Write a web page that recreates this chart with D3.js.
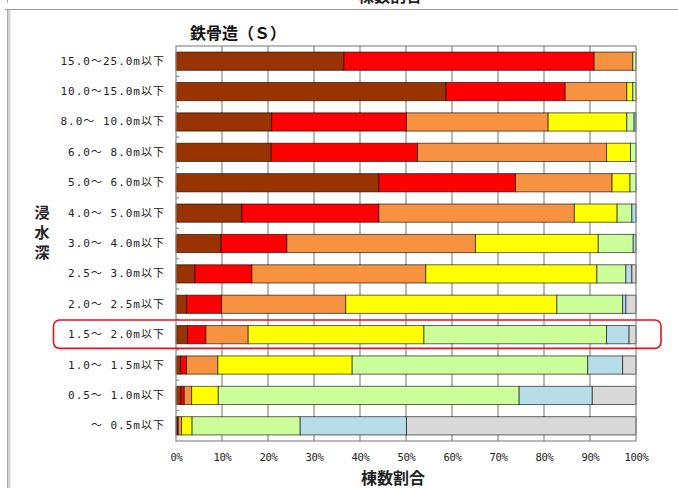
<!DOCTYPE html>
<html>
<head>
<meta charset="utf-8">
<script src="https://cdn.jsdelivr.net/npm/d3@7"></script>
<style>
  html, body { margin: 0; padding: 0; background: #fff; }
  svg { display: block; }
</style>
</head>
<body>
<svg id="chart" width="678" height="488"></svg>
<script>
// Flood depth classes (top to bottom)
const depths = [
  "15.0～25.0m以下", "10.0～15.0m以下", "8.0～ 10.0m以下", "6.0～ 8.0m以下",
  "5.0～ 6.0m以下", "4.0～ 5.0m以下", "3.0～ 4.0m以下", "2.5～ 3.0m以下",
  "2.0～ 2.5m以下", "1.5～ 2.0m以下", "1.0～ 1.5m以下", "0.5～ 1.0m以下", "～ 0.5m以下"
];

// Share of buildings (%) per damage class, one value per depth class
const sBrown  = [36.5, 58.7, 20.8, 20.7, 44.1, 14.3,  9.8,  4.1,  2.3,  2.5,  1.0,  1.1,  0.3];
const sRed    = [54.4, 25.9, 29.3, 31.8, 29.7, 29.8, 14.3, 12.4,  7.6,  4.0,  1.3,  0.7,  0.2];
const sOrange = [ 8.4, 13.4, 30.8, 41.1, 21.0, 42.5, 41.0, 37.8, 27.0,  9.2,  6.8,  1.6,  0.7];
const sYellow = [ 0.0,  1.3, 17.1,  5.2,  3.9,  9.3, 26.7, 37.2, 45.9, 38.2, 29.2,  5.8,  2.3];
const sGreen  = [ 0.7,  0.7,  1.6,  1.2,  1.3,  3.2,  7.6,  6.3, 14.3, 39.7, 51.2, 65.4, 23.5];
const sBlue   = [ 0.0,  0.0,  0.4,  0.0,  0.0,  0.9,  0.6,  1.3,  0.7,  4.9,  7.6, 15.9, 23.1];
const sGray   = [ 0.0,  0.0,  0.0,  0.0,  0.0,  0.0,  0.0,  0.9,  2.2,  1.5,  2.9,  9.5, 49.9];

const seriesValues = [sBrown, sRed, sOrange, sYellow, sGreen, sBlue, sGray];
const seriesColors = ["#993300", "#FF0000", "#F79240", "#FFFF00", "#CCFF99", "#B7DEE8", "#D9D9D9"];

const xTicks = [0, 10, 20, 30, 40, 50, 60, 70, 80, 90, 100];
const highlighted = "1.5～ 2.0m以下";

const svg = d3.select("#chart");

// page frame
svg.append("line").attr("x1", 5).attr("x2", 678).attr("y1", 9.5).attr("y2", 9.5)
  .attr("stroke", "#9a9a9a").attr("stroke-width", 1.2);
svg.append("rect").attr("x", 7).attr("y", 10).attr("width", 3.5).attr("height", 478)
  .attr("fill", "#d4d4d4");
svg.append("line").attr("x1", 7.5).attr("x2", 7.5).attr("y1", 10).attr("y2", 488)
  .attr("stroke", "#a8a8a8").attr("stroke-width", 1);
svg.append("line").attr("x1", 7.5).attr("x2", 7.5).attr("y1", 0).attr("y2", 3)
  .attr("stroke", "#a8a8a8").attr("stroke-width", 1);

// heading of the page section above
svg.append("text").attr("x", 390).attr("y", 2)
  .attr("text-anchor", "middle")
  .style("font-family", "'Noto Sans CJK JP'").style("font-size", "16px").style("font-weight", "bold")
  .attr("fill", "#222").text("棟数割合");

const plot = { left: 176, right: 636, top: 46, bottom: 441 };

const x = d3.scaleLinear().domain([0, 100]).range([plot.left, plot.right]);
const y = d3.scaleBand().domain(depths).range([plot.top, plot.bottom])
  .paddingInner(0.4).paddingOuter(0.2);

// plot background and vertical grid
svg.append("rect").attr("x", plot.left).attr("y", plot.top)
  .attr("width", plot.right - plot.left).attr("height", plot.bottom - plot.top)
  .attr("fill", "#fff");

svg.append("g")
  .selectAll("line").data(xTicks.slice(1, -1)).join("line")
  .attr("x1", d => x(d)).attr("x2", d => x(d))
  .attr("y1", plot.top).attr("y2", plot.bottom)
  .attr("stroke", "#8a8a8a").attr("stroke-width", 1.2);

// stacked bars
const stacked = depths.map((d, i) => {
  let acc = 0;
  return seriesValues.map((s, k) => {
    const seg = { depth: d, k, x0: acc, x1: acc + s[i] };
    acc += s[i];
    return seg;
  });
}).flat().filter(s => s.x1 - s.x0 > 0);

svg.append("g")
  .selectAll("rect").data(stacked).join("rect")
  .attr("x", d => x(d.x0))
  .attr("y", d => y(d.depth))
  .attr("width", d => x(d.x1) - x(d.x0))
  .attr("height", y.bandwidth())
  .attr("fill", d => seriesColors[d.k])
  .attr("stroke", "rgba(0,0,0,0.6)")
  .attr("stroke-width", 1);

// plot frame
svg.append("rect").attr("x", plot.left).attr("y", plot.top)
  .attr("width", plot.right - plot.left).attr("height", plot.bottom - plot.top)
  .attr("fill", "none").attr("stroke", "#8a8a8a").attr("stroke-width", 1.2);

// category tick marks between rows
const boundaries = depths.slice(1).map(d => y(d) - y.step() * y.paddingInner() / 2);
svg.append("g")
  .selectAll("line").data(boundaries).join("line")
  .attr("x1", plot.left).attr("x2", plot.left + 3)
  .attr("y1", d => d).attr("y2", d => d)
  .attr("stroke", "#8a8a8a").attr("stroke-width", 1.2);

// x axis labels
const xAxis = d3.axisBottom(x).tickValues(xTicks).tickFormat(d => d + "%").tickSize(0).tickPadding(0);
const gx = svg.append("g").attr("transform", `translate(0,${plot.bottom + 13})`).call(xAxis);
gx.select(".domain").remove();
gx.selectAll("text")
  .attr("dy", "0.71em")
  .style("font-family", "'DejaVu Sans Mono', monospace")
  .style("font-size", "10.5px").style("letter-spacing", "-0.3px").attr("fill", "#222");

// y axis labels
const yAxis = d3.axisLeft(y).tickSize(0).tickPadding(0);
const gy = svg.append("g").attr("transform", "translate(165,0)").call(yAxis);
gy.select(".domain").remove();
gy.selectAll("text")
  .style("font-family", "'DejaVu Sans Mono', 'Noto Sans CJK JP', monospace")
  .style("font-size", "11px").style("letter-spacing", "1px").attr("fill", "#222");

// chart title
svg.append("text").attr("x", 190).attr("y", 39)
  .style("font-family", "'Noto Sans CJK JP'").style("font-size", "16px").style("font-weight", "bold")
  .attr("fill", "#111").text("鉄骨造（Ｓ）");

// axis titles
const yTitle = svg.append("text")
  .style("font-family", "'Noto Sans CJK JP'").style("font-size", "15px").style("font-weight", "bold")
  .attr("fill", "#222").attr("text-anchor", "middle");
["浸", "水", "深"].forEach((c, i) => {
  yTitle.append("tspan").attr("x", 42).attr("y", 218 + i * 20).text(c);
});

svg.append("text").attr("x", 393).attr("y", 484)
  .attr("text-anchor", "middle")
  .style("font-family", "'Noto Sans CJK JP'").style("font-size", "16px").style("font-weight", "bold")
  .attr("fill", "#222").text("棟数割合");

// highlighted depth class
const hy = y(highlighted);
const hpad = (y.step() - y.bandwidth()) / 2;
svg.append("rect")
  .attr("x", 53.5).attr("y", hy - hpad + 0.5)
  .attr("width", 661 - 53.5).attr("height", y.bandwidth() + 2 * hpad - 2)
  .attr("rx", 6).attr("ry", 6)
  .attr("fill", "none").attr("stroke", "#E8101A").attr("stroke-width", 1.6);
</script>
</body>
</html>
